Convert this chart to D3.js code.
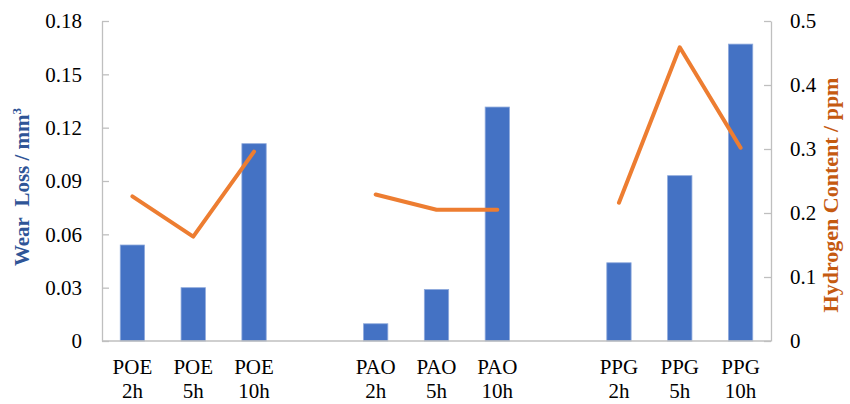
<!DOCTYPE html>
<html><head><meta charset="utf-8">
<script src="https://cdn.jsdelivr.net/npm/d3@7"></script>
<style>body{margin:0;background:#fff}svg{display:block}</style>
</head><body>
<svg id="chart" width="850" height="404"></svg>
<script>
const categories = [["POE","2h"],["POE","5h"],["POE","10h"],null,["PAO","2h"],["PAO","5h"],["PAO","10h"],null,["PPG","2h"],["PPG","5h"],["PPG","10h"]];
const wearLoss = [0.054, 0.030, 0.111, null, 0.0097, 0.029, 0.1316, null, 0.044, 0.093, 0.167];
const hydrogen = [0.226, 0.163, 0.296, null, 0.229, 0.205, 0.205, null, 0.216, 0.459, 0.302];
const leftTicks = [0, 0.03, 0.06, 0.09, 0.12, 0.15, 0.18];
const rightTicks = [0, 0.1, 0.2, 0.3, 0.4, 0.5];

const svg = d3.select("#chart");
const L = 102, R = 771, T = 21, B = 341;
const font = "'Liberation Serif','Times New Roman',serif";
const grey = "#bfbfbf";

const x = d3.scaleBand().domain(d3.range(categories.length)).range([L, R]).paddingInner(0.6).paddingOuter(0.3);
const yL = d3.scaleLinear().domain([0, 0.18]).range([B, T]);
const yR = d3.scaleLinear().domain([0, 0.5]).range([B, T]);

// bars
svg.append("g").selectAll("rect").data(wearLoss.map((v,i)=>({v,i})).filter(d=>d.v!=null)).join("rect")
  .attr("x", d=>x(d.i)).attr("width", x.bandwidth())
  .attr("y", d=>yL(d.v)).attr("height", d=>B - yL(d.v))
  .attr("fill", "#4472c4").attr("stroke", "#8faadc").attr("stroke-width", 0.8);

// line
const line = d3.line().defined(d=>d.v!=null).x(d=>x(d.i)+x.bandwidth()/2).y(d=>yR(d.v));
svg.append("path").datum(hydrogen.map((v,i)=>({v,i})))
  .attr("d", line).attr("fill","none").attr("stroke","#ed7d31")
  .attr("stroke-width", 4).attr("stroke-linecap","round").attr("stroke-linejoin","round");

// axes
const axL = svg.append("g").attr("transform", `translate(${L},0)`)
  .call(d3.axisLeft(yL).tickValues(leftTicks).tickFormat(d=>d===0?"0":d3.format(".2f")(d)).tickSizeInner(-7).tickSizeOuter(0).tickPadding(20));
const axR = svg.append("g").attr("transform", `translate(${R},0)`)
  .call(d3.axisRight(yR).tickValues(rightTicks).tickFormat(d=>d===0?"0":d3.format(".1f")(d)).tickSizeInner(-7).tickSizeOuter(0).tickPadding(19));
[axL, axR].forEach(a=>{
  a.selectAll("path,line").attr("stroke", grey).attr("stroke-width", 1.3);
  a.selectAll("text").attr("font-family", font).attr("font-size", 21).attr("fill", "#000");
});
svg.append("line").attr("x1", L).attr("x2", R).attr("y1", B).attr("y2", B).attr("stroke", grey).attr("stroke-width", 1.3);

// category labels
const cat = svg.append("g").selectAll("text").data(categories.map((c,i)=>({c,i})).filter(d=>d.c)).join("text")
  .attr("font-family", font).attr("font-size", 21).attr("text-anchor","middle").attr("fill","#000");
cat.append("tspan").attr("x", d=>x(d.i)+x.bandwidth()/2).attr("y", 374).text(d=>d.c[0]);
cat.append("tspan").attr("x", d=>x(d.i)+x.bandwidth()/2).attr("y", 398).text(d=>d.c[1]);

// axis titles
const tl = svg.append("text").attr("transform","translate(29,187) rotate(-90)").attr("text-anchor","middle")
  .attr("font-family", font).attr("font-size", 21).attr("font-weight","bold").attr("fill","#2f5597");
tl.append("tspan").text("Wear\u00a0 Loss / mm");
tl.append("tspan").attr("font-size", 13).attr("dy", -8).text("3");
svg.append("text").attr("transform","translate(838,195) rotate(-90)").attr("text-anchor","middle")
  .attr("font-family", font).attr("font-size", 22).attr("font-weight","bold").attr("fill","#c55a11")
  .text("Hydrogen Content / ppm");
</script>
</body></html>
